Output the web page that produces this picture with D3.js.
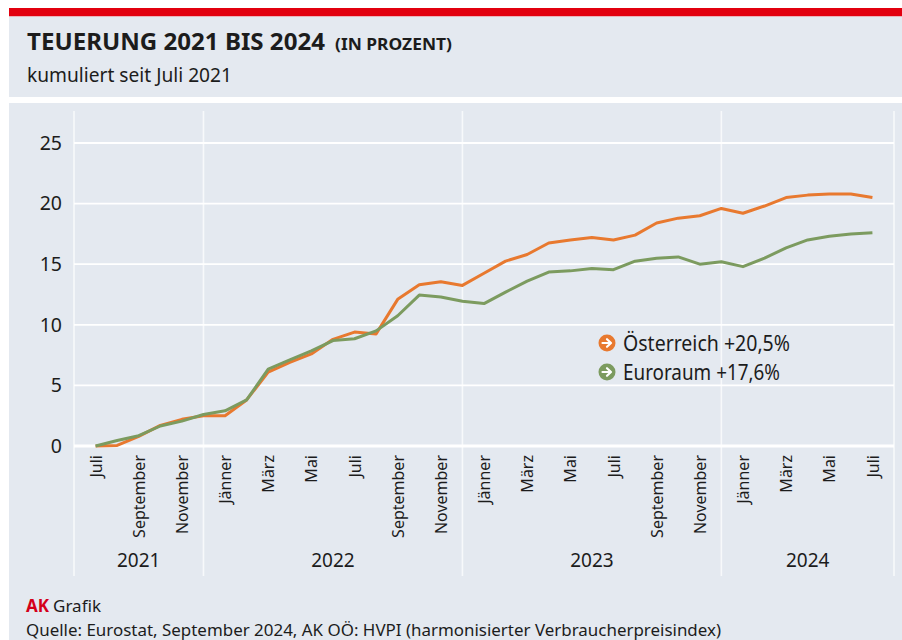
<!DOCTYPE html>
<html>
<head>
<meta charset="utf-8">
<script src="https://cdn.jsdelivr.net/npm/d3@7"></script>
<style>
  html, body { margin: 0; padding: 0; background: #ffffff; }
  svg { display: block; }
  text { font-family: "Noto Sans", "Open Sans", sans-serif; fill: #1c1c1c; }
</style>
</head>
<body>
<svg id="chart" width="902" height="640"></svg>
<script>
// Cumulative inflation since July 2021, monthly, July 2021 – July 2024
const monthIndex = d3.range(0, 37);
const austria = [0, 0.05, 0.8, 1.7, 2.2, 2.5, 2.5, 3.8, 6.1, 6.9, 7.6, 8.8, 9.4, 9.25, 12.1,
  13.3, 13.55, 13.25, 14.25, 15.25, 15.8, 16.75, 17.0, 17.2, 17.0, 17.4, 18.4, 18.8, 19.0,
  19.6, 19.2, 19.8, 20.5, 20.7, 20.8, 20.8, 20.5];
const euroArea = [0, 0.45, 0.85, 1.65, 2.05, 2.6, 2.9, 3.8, 6.35, 7.1, 7.85, 8.7, 8.85, 9.5,
  10.75, 12.45, 12.3, 11.95, 11.75, 12.7, 13.6, 14.35, 14.45, 14.65, 14.55, 15.25, 15.5,
  15.6, 15.0, 15.2, 14.8, 15.5, 16.35, 17.0, 17.3, 17.5, 17.6];

const seriesNames = ["Österreich", "Euroraum"];
const seriesLabels = ["Österreich +20,5%", "Euroraum +17,6%"];

const monthTickIndex = [0, 2, 4, 6, 8, 10, 12, 14, 16, 18, 20, 22, 24, 26, 28, 30, 32, 34, 36];
const monthTickLabels = ["Juli", "September", "November", "Jänner", "März", "Mai", "Juli",
  "September", "November", "Jänner", "März", "Mai", "Juli", "September", "November",
  "Jänner", "März", "Mai", "Juli"];
const years = ["2021", "2022", "2023", "2024"];
const yearBounds = [-1, 5, 17, 29, 37];   // month positions of the year separators
const yTicks = [0, 5, 10, 15, 20, 25];

const COL_AT = "#e8792f";
const COL_EU = "#7c9b5f";
const PANEL = "#e4e9f0";

const svg = d3.select("#chart");

// header: red rule and title panel
svg.append("rect").attr("x", 9).attr("y", 8).attr("width", 893).attr("height", 8.5).attr("fill", "#e2000f");
svg.append("rect").attr("x", 9).attr("y", 16.5).attr("width", 893).attr("height", 80.5).attr("fill", PANEL);
svg.append("rect").attr("x", 9).attr("y", 103).attr("width", 893).attr("height", 537).attr("fill", PANEL);

svg.append("text").attr("x", 27).attr("y", 50)
  .attr("font-size", 24).attr("font-weight", 700)
  .attr("textLength", 298).attr("lengthAdjust", "spacingAndGlyphs")
  .text("TEUERUNG 2021 BIS 2024");
svg.append("text").attr("x", 335).attr("y", 50)
  .attr("font-size", 16).attr("font-weight", 700)
  .attr("textLength", 117).attr("lengthAdjust", "spacingAndGlyphs")
  .text("(IN PROZENT)");
svg.append("text").attr("x", 27).attr("y", 82)
  .attr("font-size", 19)
  .attr("textLength", 205).attr("lengthAdjust", "spacingAndGlyphs")
  .text("kumuliert seit Juli 2021");

// scales
const x = d3.scaleLinear().domain([-1, 37]).range([74, 894]);
const y = d3.scaleLinear().domain([0, 25]).range([446, 143]);

// year separators
svg.append("g").selectAll("line").data(yearBounds).join("line")
  .attr("x1", d => x(d)).attr("x2", d => x(d))
  .attr("y1", 111).attr("y2", 576)
  .attr("stroke", "#f7f9fb").attr("stroke-width", 1.6);

// horizontal gridlines
svg.append("g").selectAll("line").data(yTicks).join("line")
  .attr("x1", x(-1)).attr("x2", x(37))
  .attr("y1", d => y(d)).attr("y2", d => y(d))
  .attr("stroke", "#ffffff").attr("stroke-width", d => d === 0 ? 3 : 1.8);

// y axis labels
const yAxis = d3.axisLeft(y).tickValues(yTicks).tickSize(0).tickPadding(0).tickFormat(d3.format("d"));
const yg = svg.append("g").attr("transform", "translate(62,0)").call(yAxis);
yg.select(".domain").remove();
yg.selectAll("text").attr("font-size", 19.5).attr("fill", "#1c1c1c")
  .attr("font-family", "\"Noto Sans\", sans-serif");

// month labels (rotated)
const xAxis = d3.axisBottom(x).tickValues(monthTickIndex).tickSize(0)
  .tickFormat((d, i) => monthTickLabels[i]);
const xg = svg.append("g").attr("transform", "translate(0,455)").call(xAxis);
xg.select(".domain").remove();
xg.selectAll("text")
  .attr("font-size", 16).attr("fill", "#1c1c1c")
  .attr("font-family", "\"Noto Sans\", sans-serif")
  .attr("text-anchor", "end")
  .attr("transform", "rotate(-90)")
  .attr("x", 0).attr("y", 0).attr("dy", "0.35em");

// year labels
svg.append("g").selectAll("text").data(years).join("text")
  .attr("x", (d, i) => (x(yearBounds[i]) + x(yearBounds[i + 1])) / 2)
  .attr("y", 567)
  .attr("text-anchor", "middle").attr("font-size", 19)
  .text(d => d);

// lines
const line = d3.line().x((d, i) => x(monthIndex[i])).y(d => y(d));
svg.append("path").datum(austria).attr("d", line)
  .attr("fill", "none").attr("stroke", COL_AT).attr("stroke-width", 3)
  .attr("stroke-linejoin", "round");
svg.append("path").datum(euroArea).attr("d", line)
  .attr("fill", "none").attr("stroke", COL_EU).attr("stroke-width", 3)
  .attr("stroke-linejoin", "round");

// legend
const legend = svg.append("g").selectAll("g").data(seriesNames).join("g")
  .attr("transform", (d, i) => `translate(607,${343 + i * 29})`);
legend.append("circle").attr("r", 8.5).attr("fill", (d, i) => i === 0 ? COL_AT : COL_EU);
legend.append("path")
  .attr("d", "M-4.5,0 H3.5 M0,-3.8 L4,0 L0,3.8")
  .attr("fill", "none").attr("stroke", "#ffffff").attr("stroke-width", 2.2)
  .attr("stroke-linecap", "round").attr("stroke-linejoin", "round");
legend.append("text").attr("x", 16).attr("y", 7.5)
  .attr("font-size", 21)
  .attr("textLength", (d, i) => i === 0 ? 167 : 157).attr("lengthAdjust", "spacingAndGlyphs")
  .text((d, i) => seriesLabels[i]);

// footer
const credit = svg.append("text").attr("x", 26).attr("y", 612).attr("font-size", 17);
credit.append("tspan").attr("font-weight", 700).style("fill", "#d4001a").text("AK");
credit.append("tspan").attr("dx", 4).text("Grafik");
svg.append("text").attr("x", 26).attr("y", 636).attr("font-size", 17)
  .attr("textLength", 695).attr("lengthAdjust", "spacingAndGlyphs")
  .text("Quelle: Eurostat, September 2024, AK OÖ: HVPI (harmonisierter Verbraucherpreisindex)");
</script>
</body>
</html>
